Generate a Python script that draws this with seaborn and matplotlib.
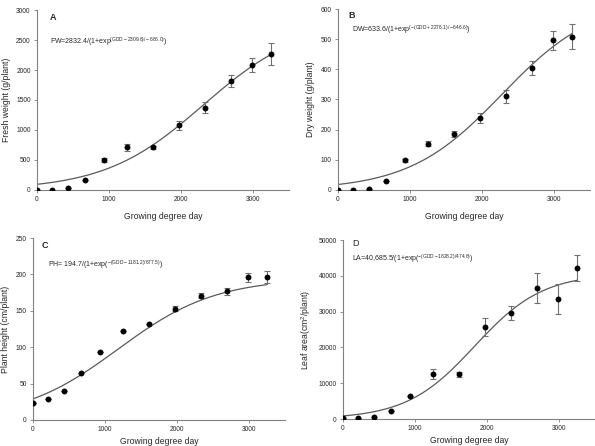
import numpy as np
import pandas as pd
import matplotlib
matplotlib.use("Agg")
import matplotlib.pyplot as plt
import seaborn as sns

# ---- data ----
gdd = [0, 215, 432, 670, 933, 1250, 1605, 1975, 2335, 2690, 2980, 3255]

fw = [5, 8, 28, 163, 500, 710, 710, 1078, 1373, 1812, 2083, 2268]
fw_err = [0, 0, 0, 0, 30, 55, 25, 75, 88, 100, 110, 180]

dw = [0, 0, 4, 29, 99, 153, 186, 238, 310, 405, 496, 508]
dw_err = [0, 0, 0, 0, 5, 8, 9, 16, 22, 24, 31, 41]

ph = [24, 29, 40, 64, 94, 122, 132, 153, 171, 177, 196, 196]
ph_err = [0, 0, 0, 0, 0, 0, 0, 3, 3, 5, 6, 8]

la = [200, 200, 450, 2100, 6500, 12600, 12450, 25650, 29650, 36600, 33550, 42100]
la_err = [0, 0, 0, 0, 0, 1300, 700, 2500, 1900, 4300, 4100, 3600]

# logistic fit parameters printed on the chart: K, x0, scale
fw_fit = (2832.4, 2309.6, 686.0)
dw_fit = (633.6, 2276.1, 646.6)
ph_fit = (194.7, 1181.2, 677.5)
la_fit = (40685.5, 1828.2, 474.8)

panel_letters = ["A", "B", "C", "D"]
ylabels = ["Fresh weight (g/plant)", "Dry weight (g/plant)",
           "Plant height (cm/plant)", "Leaf area(cm$^2$/plant)"]
equations = [
    r"FW=2832.4/(1+exp$^{\mathregular{(GDD-2309.6)/-686.0)}}$)",
    r"DW=633.6/(1+exp$^{\mathregular{(-(GDD+2276.1)/-646.6)}}$)",
    r"PH= 194.7/(1+exp($^{\mathregular{-(GDD-1181.2)/677.5)}}$)",
    r"LA=40,685.5/(1+exp($^{\mathregular{-(GDD-1828.2)/474.8)}}$)",
]
yticks = [np.arange(0, 3001, 500), np.arange(0, 601, 100),
          np.arange(0, 251, 50), np.arange(0, 50001, 10000)]
xticks = [0, 1000, 2000, 3000]

# ---- style ----
sns.set_style("ticks")
plt.rcParams["font.family"] = ["Liberation Sans", "DejaVu Sans"]
plt.rcParams["mathtext.fontset"] = "custom"
plt.rcParams["mathtext.rm"] = "Liberation Sans"
plt.rcParams["mathtext.it"] = "Liberation Sans"

W, H = 595, 446
fig = plt.figure(figsize=(W / 100, H / 100), dpi=100)

# axes boxes in pixel coords: left, right, top, bottom
boxes = [(37, 289, 10, 190), (338, 590, 9, 190),
         (33, 285, 238, 420), (343, 595, 240, 419)]
letter_pos = [(50, 17), (348, 15), (42, 245), (352, 243)]
letter_weight = ["bold", "bold", "bold", "normal"]
eq_pos = [(50, 42), (352, 30), (48, 265), (352, 259)]
xlabel_pad = [6, 6, 2.5, 2.5]

series = [(fw, fw_err, fw_fit), (dw, dw_err, dw_fit),
          (ph, ph_err, ph_fit), (la, la_err, la_fit)]

gray = "#808080"
for i, ((l, r, t, b), (vals, errs, fit)) in enumerate(zip(boxes, series)):
    ax = fig.add_axes([l / W, 1 - b / H, (r - l) / W, (b - t) / H])
    K, x0, s = fit
    xs = np.linspace(0, gdd[-1], 200)
    curve = pd.DataFrame({"x": xs, "y": K / (1 + np.exp(-(xs - x0) / s))})
    sns.lineplot(data=curve, x="x", y="y", ax=ax, color="#5a5a5a", lw=0.9)
    ax.errorbar(gdd, vals, yerr=errs, fmt="none", ecolor="#707070",
                elinewidth=0.8, capsize=2.5, capthick=0.8)
    df = pd.DataFrame({"x": gdd, "y": vals})
    sns.scatterplot(data=df, x="x", y="y", ax=ax, color="black", s=18,
                    edgecolor="black", linewidth=0, zorder=5)
    ax.set_xlim(0, 3500)
    ax.set_ylim(yticks[i][0], yticks[i][-1])
    ax.set_xticks(xticks)
    ax.set_yticks(yticks[i])
    ax.tick_params(labelsize=4.8, length=2.5, width=0.6, color=gray, pad=2)
    for sp in ["top", "right"]:
        ax.spines[sp].set_visible(False)
    for sp in ["left", "bottom"]:
        ax.spines[sp].set_color(gray)
        ax.spines[sp].set_linewidth(0.8)
    ax.set_xlabel("Growing degree day", fontsize=6.2, labelpad=xlabel_pad[i])
    ax.set_ylabel(ylabels[i], fontsize=6.2, labelpad=4)
    fig.text(letter_pos[i][0] / W, 1 - letter_pos[i][1] / H, panel_letters[i],
             fontsize=6.5, fontweight=letter_weight[i], va="center", ha="left")
    fig.text(eq_pos[i][0] / W, 1 - eq_pos[i][1] / H, equations[i],
             fontsize=5.0, va="center", ha="left")

fig.savefig("out.png", dpi=100)
